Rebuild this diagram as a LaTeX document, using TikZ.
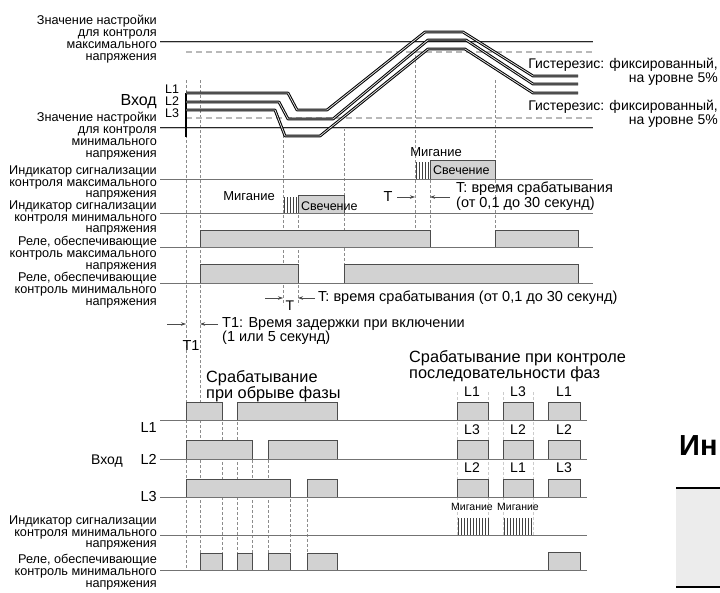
\documentclass[tikz,border=0pt]{standalone}
\usepackage{fontspec}
\setmainfont{Liberation Sans}
\usetikzlibrary{arrows.meta}
\tikzset{
  lbl/.style={font=\fontsize{12.7}{11.8}\selectfont, align=right, anchor=east, inner sep=0pt},
  txt/.style={font=\fontsize{13}{14.5}\selectfont, inner sep=0pt},
  note/.style={font=\fontsize{14.5}{13.5}\selectfont, inner sep=0pt, anchor=west, align=left},
  big/.style={font=\fontsize{16.3}{16}\selectfont, inner sep=0pt, align=left, anchor=west},
  sig/.style={draw=black!55, line width=1pt},
  pulse/.style={fill=gray!35, draw=black!70, line width=1pt},
  guide/.style={draw=black!45, dash pattern=on 3pt off 2pt, line width=0.6pt},
  setl/.style={draw=black!85, double=gray!45, double distance=0.9pt, line width=0.8pt},
  hyst/.style={draw=gray!55, line width=2pt, dash pattern=on 6pt off 4pt},
  inp/.style={draw=black, double=gray!25, double distance=0.8pt, line width=1pt, line join=round},
  dim/.style={-{Stealth[length=5pt,width=3.5pt]}, black!70, line width=0.6pt},
  blink/.style={black!75, line width=0.8pt},
}
\begin{document}
\begin{tikzpicture}[x=1pt,y=-1pt]
\useasboundingbox (0,0) rectangle (720,592);
% guides
\foreach \x/\a/\b in {186/80/570, 200/80/570, 283/130/305, 298/195/305, 344/128/283, 415/50/247, 430/160/247, 495/80/247,
  222/402/570, 237/402/570, 252/440/570, 268/440/570, 290/479/570, 307/479/570}
  \draw[guide] (\x,\a) -- (\x,\b);
\foreach \x in {457,488,503,533}
  \draw[guide, draw=black!20] (\x,392) -- (\x,535);
% setting values and input
\draw[setl] (160,42) -- (593,42);
\draw[setl] (160,128) -- (593,128);
\draw[hyst] (186,52) -- (593,52);
\draw[hyst] (186,118) -- (593,118);
\draw[black, line width=1.8pt] (186,93) -- (186,137);
\draw[inp] (186,110) -- (275,110) -- (285,136) -- (320,136) -- (428,49) -- (465,49) -- (533,93) -- (578,93);
\draw[inp] (186,102) -- (279,102) -- (288,119) -- (333,119) -- (428,40) -- (466,40) -- (533,84) -- (578,84);
\draw[inp] (186,93) -- (288,93) -- (297,110) -- (327,110) -- (425,32) -- (463,32) -- (533,76) -- (578,76);
\node[lbl] (maxset) at (157,39) {Значение настройки\\для контроля\\максимального\\напряжения};
\node[lbl] (minset) at (157,136) {Значение настройки\\для контроля\\минимального\\напряжения};
\node[lbl, font=\fontsize{16}{16}\selectfont, anchor=base east] (vhod) at (157,105) {Вход};
\node[txt, anchor=base west, font=\fontsize{12.5}{12}\selectfont] (la) at (165,93) {L1};
\node[txt, anchor=base west, font=\fontsize{12.5}{12}\selectfont] (lb) at (165,105) {L2};
\node[txt, anchor=base west, font=\fontsize{12.5}{12}\selectfont] (lc) at (165,117) {L3};
\node[txt, align=right, anchor=east, font=\fontsize{14}{14.5}\selectfont] (hysta) at (718,72) {Гистерезис: фиксированный,\\на уровне 5\%};
\node[txt, align=right, anchor=east, font=\fontsize{14}{14.5}\selectfont] (hystb) at (718,114) {Гистерезис: фиксированный,\\на уровне 5\%};
% indicators and relays
\foreach \y in {179,213,247,283} \draw[sig] (160,\y) -- (593,\y);
\foreach \a/\b/\t/\s in {430/495/160/179, 298/344/195/213, 200/430/230/247, 495/578/230/247, 200/298/264/283, 344/578/264/283}
  \draw[pulse] (\a,\s) -- (\a,\t) -- (\b,\t) -- (\b,\s);
\foreach \x in {416,419,...,428} \draw[blink] (\x,162) -- (\x,179);
\foreach \x in {284,287,...,296} \draw[blink] (\x,197) -- (\x,213);
\node[txt] (blmax) at (436,152) {Мигание};
\node[txt, anchor=west, font=\fontsize{12.5}{13}\selectfont] (onmax) at (433,170) {Свечение};
\node[txt] (blmin) at (249,196) {Мигание};
\node[txt, anchor=west, font=\fontsize{12.5}{13}\selectfont] (onmin) at (301,206) {Свечение};
\node[lbl] (indmax) at (157,183) {Индикатор сигнализации\\контроля максимального\\напряжения};
\node[lbl] (indmin) at (157,218) {Индикатор сигнализации\\контроля минимального\\напряжения};
\node[lbl] (relmax) at (157,254) {Реле, обеспечивающие\\контроль максимального\\напряжения};
\node[lbl] (relmin) at (157,290) {Реле, обеспечивающие\\контроль минимального\\напряжения};
% times
\node[txt, font=\fontsize{14.5}{14}\selectfont] (tmax) at (388,197) {T};
\draw[dim] (397,197) -- (415,197);
\draw[dim] (450,197) -- (430,197);
\node[note] (tmaxlbl) at (456,196) {T: время срабатывания\\(от 0,1 до 30 секунд)};
\draw[dim] (265,298) -- (283,298);
\draw[dim] (315,298) -- (298,298);
\node[txt, font=\fontsize{14}{14}\selectfont] (tmin) at (290,306) {T};
\node[note] (tminlbl) at (318,298) {T: время срабатывания (от 0,1 до 30 секунд)};
\draw[dim] (167,324) -- (186,324);
\draw[dim] (218,324) -- (200,324);
\node[txt, font=\fontsize{14.5}{14}\selectfont] (tone) at (191,346) {T1};
\node[note] (tonelbl) at (222,331) {T1: Время задержки при включении\\(1 или 5 секунд)};
% phase loss and phase sequence
\node[big] (loss) at (206,386) {Срабатывание\\при обрыве фазы};
\node[big] (seq) at (409,366) {Срабатывание при контроле\\последовательности фаз};
\foreach \y in {420,459,497,535,570} \draw[sig] (160,\y) -- (587,\y);
\foreach \a/\b/\t/\s in {186/222/402/420, 237/337/402/420, 186/252/440/459, 268/337/440/459, 186/290/479/497, 307/337/479/497,
  200/222/553/570, 237/252/553/570, 268/290/553/570, 307/337/553/570, 548/580/552/570}
  \draw[pulse] (\a,\s) -- (\a,\t) -- (\b,\t) -- (\b,\s);
\foreach \a/\b in {457/488, 503/533, 548/580}
  \foreach \t/\s in {402/420, 440/459, 479/497}
    \draw[pulse] (\a,\s) -- (\a,\t) -- (\b,\t) -- (\b,\s);
\foreach \x/\p/\q/\r in {472/L1/L3/L2, 518/L3/L2/L1, 564/L1/L2/L3} {
  \node[txt, font=\fontsize{14}{14}\selectfont] at (\x,392) {\p};
  \node[txt, font=\fontsize{14}{14}\selectfont] at (\x,430) {\q};
  \node[txt, font=\fontsize{14}{14}\selectfont] at (\x,468) {\r};
}
\foreach \x in {458,461,...,488} \draw[blink] (\x,518) -- (\x,535);
\foreach \x in {504,507,...,533} \draw[blink] (\x,518) -- (\x,535);
\node[txt, font=\fontsize{10.5}{11}\selectfont] (blseqa) at (472,507) {Мигание};
\node[txt, font=\fontsize{10.5}{11}\selectfont] (blseqb) at (518,507) {Мигание};
\node[lbl, font=\fontsize{14.5}{15}\selectfont, anchor=base east] (ln1) at (157,432) {L1};
\node[lbl, font=\fontsize{14.5}{15}\selectfont, anchor=base east] (ln2) at (157,464) {L2};
\node[lbl, font=\fontsize{14}{15}\selectfont, anchor=base east] (vhod2) at (123,464) {Вход};
\node[lbl, font=\fontsize{14.5}{15}\selectfont, anchor=base east] (ln3) at (157,501) {L3};
\node[lbl] (indmin2) at (157,533) {Индикатор сигнализации\\контроля минимального\\напряжения};
\node[lbl] (relmin2) at (157,572) {Реле, обеспечивающие\\контроль минимального\\напряжения};
% cut-off page part
\fill[gray!15] (676,488) rectangle (722,587);
\draw[black, line width=2.5pt] (676,488) -- (722,488);
\draw[black, line width=2.5pt] (676,587) -- (722,587);
\node[font=\bfseries\fontsize{29}{29}\selectfont, anchor=west, inner sep=0pt] (hdr) at (679,446) {Ин};
\end{tikzpicture}
\end{document}
